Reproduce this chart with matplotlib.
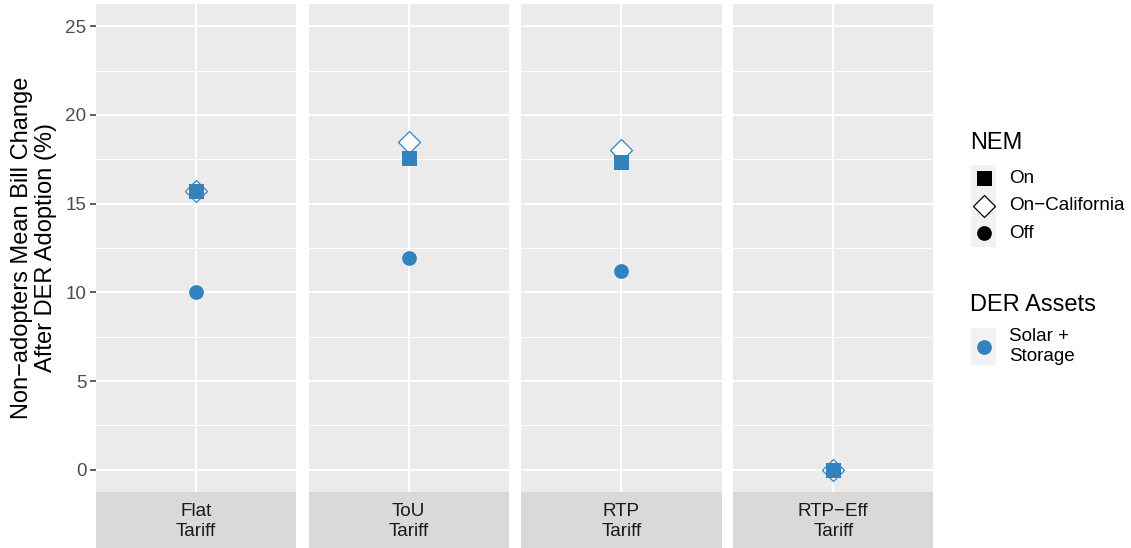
import matplotlib
matplotlib.use("Agg")
import matplotlib.pyplot as plt
from matplotlib.lines import Line2D
from matplotlib.patches import Rectangle

plt.rcParams['font.family'] = ['Liberation Sans', 'DejaVu Sans']

# ---- data ----
tariffs = ["Flat\nTariff", "ToU\nTariff", "RTP\nTariff", "RTP\u2212Eff\nTariff"]
nem_on = [15.7, 17.55, 17.35, 0.0]
nem_on_california = [15.7, 18.45, 18.0, 0.0]
nem_off = [10.0, 11.93, 11.23, 0.0]
y_ticks = [0, 5, 10, 15, 20, 25]
y_minor = [2.5, 7.5, 12.5, 17.5, 22.5]
ylim = (-1.25, 26.25)

BLUE = "#3182BD"
PANEL_BG = "#EBEBEB"
STRIP_BG = "#D9D9D9"

SMALL = 13.6
BIG = 17.0

W, H = 1131, 548
fig = plt.figure(figsize=(W / 100, H / 100), dpi=100)

def fx(px):
    return px / W

def fy(py):
    return 1 - py / H

panel_left = [96, 308.5, 521, 733]
panel_w = 200.5
top_px, bot_px, strip_bot = 4, 492, 548

for i, t in enumerate(tariffs):
    ax = fig.add_axes([fx(panel_left[i]), fy(bot_px), panel_w / W, (bot_px - top_px) / H])
    ax.set_facecolor(PANEL_BG)
    for s in ax.spines.values():
        s.set_visible(False)
    ax.set_ylim(*ylim)
    ax.set_xlim(-0.6, 0.6)
    for yv in y_ticks:
        ax.axhline(yv, color="white", lw=1.5, zorder=0.5)
    for yv in y_minor:
        ax.axhline(yv, color="white", lw=0.75, zorder=0.5)
    ax.axvline(0, color="white", lw=1.5, zorder=0.5)
    ax.plot([0], [nem_on_california[i]], marker="D", ms=11.2, mfc="white", mec=BLUE,
            mew=0.9, ls="none", zorder=3)
    ax.plot([0], [nem_on[i]], marker="s", ms=10.8, mfc=BLUE, mec=BLUE, mew=0,
            ls="none", zorder=4)
    ax.plot([0], [nem_off[i]], marker="o", ms=10.6, mfc=BLUE, mec=BLUE, mew=0,
            ls="none", zorder=4)
    ax.set_xticks([])
    ax.set_yticks(y_ticks)
    if i == 0:
        ax.tick_params(axis="y", length=4.5, width=1.1, color="#333333",
                       labelsize=SMALL, labelcolor="#4D4D4D", pad=2.5)
        ax.set_yticklabels([str(v) for v in y_ticks])
    else:
        ax.tick_params(axis="y", length=0, labelleft=False)
    # strip
    sax = fig.add_axes([fx(panel_left[i]), fy(strip_bot), panel_w / W, (strip_bot - bot_px) / H])
    sax.set_facecolor(STRIP_BG)
    for s in sax.spines.values():
        s.set_visible(False)
    sax.set_xticks([])
    sax.set_yticks([])
    sax.text(0.5, 0.47, t, ha="center", va="center", fontsize=SMALL, color="#1A1A1A",
             linespacing=1.22, transform=sax.transAxes)

# y-axis title
fig.text(fx(34), fy(248), "Non\u2212adopters Mean Bill Change\nAfter DER Adoption (%)",
         rotation=90, ha="center", va="center", fontsize=BIG, color="black",
         linespacing=1.12)

# ---- legends (manual, ggplot style) ----
def key_bg(x0, y0, w, h):
    fig.add_artist(Rectangle((fx(x0), fy(y0 + h)), w / W, h / H, transform=fig.transFigure,
                             facecolor="#F2F2F2", edgecolor="none"))

def key_marker(xc, yc, **kw):
    fig.add_artist(Line2D([fx(xc)], [fy(yc)], transform=fig.transFigure, ls="none", **kw))

fig.text(fx(970), fy(143), "NEM", ha="left", va="center", fontsize=BIG, color="black")
nem_labels = ["On", "On\u2212California", "Off"]
nem_markers = [dict(marker="s", ms=10.8, mfc="black", mec="black", mew=0),
               dict(marker="D", ms=11.2, mfc="white", mec="black", mew=0.9),
               dict(marker="o", ms=10.6, mfc="black", mec="black", mew=0)]
row_top = 164.5
for j, (lab, mk) in enumerate(zip(nem_labels, nem_markers)):
    y0 = row_top + j * 27.5
    key_bg(971, y0, 25, 27.5)
    key_marker(983.5, y0 + 13.75, **mk)
    fig.text(fx(1009), fy(y0 + 13.75), lab, ha="left", va="center", fontsize=SMALL,
             color="black")

fig.text(fx(970), fy(305), "DER Assets", ha="left", va="center", fontsize=BIG, color="black")
key_bg(971, 328, 25, 37)
key_marker(983.5, 346.5, marker="o", ms=10.6, mfc=BLUE, mec=BLUE, mew=0)
fig.text(fx(1009), fy(346.5), "Solar +\nStorage", ha="left", va="center", fontsize=SMALL,
         color="black", linespacing=1.22)

fig.savefig("out.png", dpi=100)
